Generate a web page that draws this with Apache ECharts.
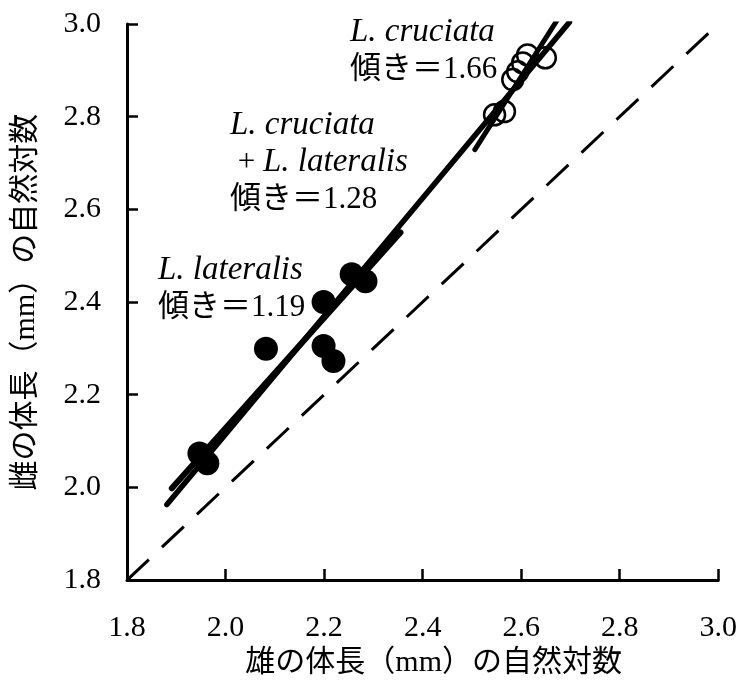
<!DOCTYPE html>
<html><head><meta charset="utf-8">
<script src="https://cdn.jsdelivr.net/npm/echarts@6/dist/echarts.min.js"></script>
<style>html,body{margin:0;padding:0;background:#fff}#c{width:740px;height:683px}</style>
</head><body><div id="c"></div>
<script>
// L. lateralis (filled circles): [male ln length, female ln length]
const lateralisPts = [[1.947,2.073],[1.963,2.052],[2.082,2.299],[2.199,2.400],[2.199,2.305],[2.219,2.273],[2.256,2.460],[2.284,2.445]];
// L. cruciata (open circles)
const cruciataPts = [[2.546,2.804],[2.566,2.811],[2.583,2.880],[2.593,2.897],[2.603,2.916],[2.613,2.933],[2.649,2.927]];
// regression line endpoints
const lineLateralis = [[1.891,1.998],[2.355,2.550]];
const lineCombined = [[1.881,1.963],[2.698,3.004]];
const lineCruciata = [[2.506,2.729],[2.677,3.015]];
const lineIdentity = [[1.8,1.8],[3.0,3.0]];
const xTicks = [1.8,2.0,2.2,2.4,2.6,2.8,3.0];
const yTicks = [1.8,2.0,2.2,2.4,2.6,2.8,3.0];

const FONT = "'Liberation Serif', 'Noto Sans CJK JP', serif";
const chart = echarts.init(document.getElementById('c'));
const axisCommon = {
  type: 'value', min: 1.8, max: 3.0, interval: 0.2,
  axisLine: {show: true, lineStyle: {color: '#000', width: 3}},
  axisTick: {show: true, inside: true, length: 11, lineStyle: {color: '#000', width: 2.5}},
  splitLine: {show: false},
  axisLabel: {color: '#000', fontFamily: FONT, fontSize: 30, formatter: v => v.toFixed(1)},
  nameLocation: 'middle',
  nameTextStyle: {color: '#000', fontFamily: FONT, fontSize: 30}
};
const rich = {
  i: {fontFamily: FONT, fontStyle: 'italic', fontSize: 33, color: '#000'},
  n: {fontFamily: FONT, fontSize: 31, color: '#000'}
};
function txt(x, y, s) {
  return {type: 'text', left: x, top: y, style: {text: s, rich: rich, lineHeight: 37}};
}
chart.setOption({
  animation: false,
  grid: {left: 127, right: 18, top: 24, bottom: 101},
  xAxis: Object.assign({}, axisCommon, {name: '雄の体長（mm）の自然対数', nameGap: 61,
    nameTextStyle: Object.assign({}, axisCommon.nameTextStyle, {padding: [0, 0, 0, 22]}),
    axisLabel: Object.assign({}, axisCommon.axisLabel, {margin: 33})}),
  yAxis: Object.assign({}, axisCommon, {name: '雌の体長（mm）の自然対数', nameGap: 86,
    axisLabel: Object.assign({}, axisCommon.axisLabel, {margin: 26})}),
  series: [
    {type: 'line', data: lineIdentity, symbol: 'none', lineStyle: {color: '#000', width: 3, type: [30, 18]}},
    {type: 'line', data: lineLateralis, symbol: 'none', lineStyle: {color: '#000', width: 6, cap: 'round'}},
    {type: 'line', data: lineCombined, symbol: 'none', lineStyle: {color: '#000', width: 5.5, cap: 'round'}},
    {type: 'line', data: lineCruciata, symbol: 'none', lineStyle: {color: '#000', width: 5, cap: 'round'}},
    {type: 'scatter', data: lateralisPts, symbol: 'circle', symbolSize: 24, itemStyle: {color: '#000', opacity: 1}},
    {type: 'scatter', data: cruciataPts, symbol: 'circle', symbolSize: 21,
      itemStyle: {color: 'rgba(0,0,0,0)', borderColor: '#000', borderWidth: 2.5, opacity: 1}}
  ],
  graphic: [
    txt(350, 14, '{i|L. cruciata}\n{n|傾き＝1.66}'),
    txt(230, 107, '{i|L. cruciata}\n{n| + }{i|L. lateralis}\n{n|傾き＝1.28}'),
    txt(158, 252, '{i|L. lateralis}\n{n|傾き＝1.19}')
  ]
});
</script></body></html>
